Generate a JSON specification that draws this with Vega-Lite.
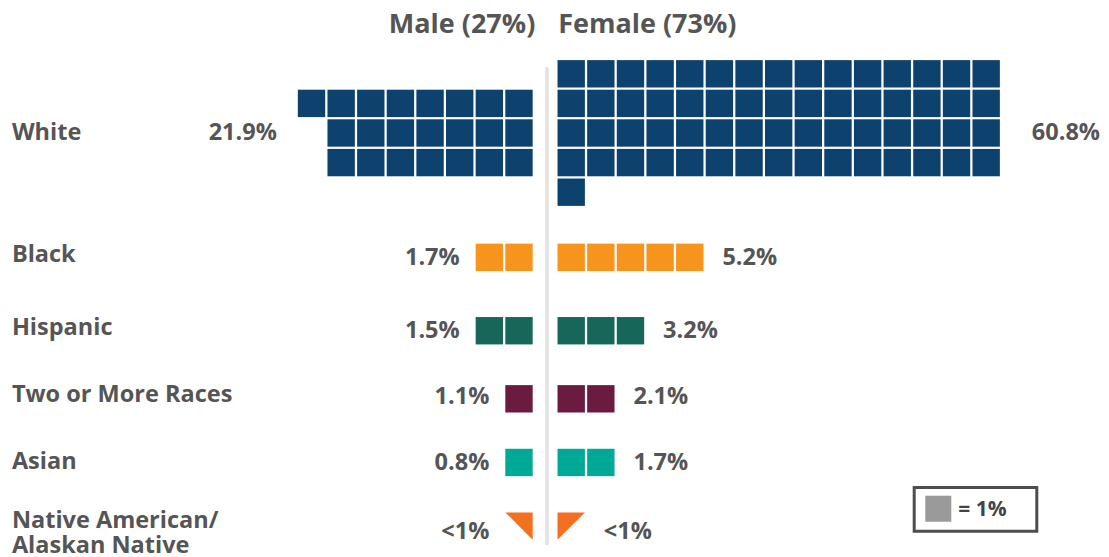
{
  "$schema": "https://vega.github.io/schema/vega-lite/v6.json",
  "width": 1109,
  "height": 557,
  "padding": 0,
  "autosize": {"type": "none"},
  "config": {"view": {"stroke": null}, "text": {"font": "Open Sans", "fontWeight": "bold", "color": "#555555"}},
  "resolve": {"scale": {"x": "independent"}},
  "datasets": {
    "cells": [
      {"r":"White","s":"M","c":0,"y":1,"sh":"sq"},{"r":"White","s":"M","c":1,"y":1,"sh":"sq"},{"r":"White","s":"M","c":2,"y":1,"sh":"sq"},{"r":"White","s":"M","c":3,"y":1,"sh":"sq"},{"r":"White","s":"M","c":4,"y":1,"sh":"sq"},{"r":"White","s":"M","c":5,"y":1,"sh":"sq"},{"r":"White","s":"M","c":6,"y":1,"sh":"sq"},{"r":"White","s":"M","c":7,"y":1,"sh":"sq"},
      {"r":"White","s":"M","c":0,"y":2,"sh":"sq"},{"r":"White","s":"M","c":1,"y":2,"sh":"sq"},{"r":"White","s":"M","c":2,"y":2,"sh":"sq"},{"r":"White","s":"M","c":3,"y":2,"sh":"sq"},{"r":"White","s":"M","c":4,"y":2,"sh":"sq"},{"r":"White","s":"M","c":5,"y":2,"sh":"sq"},{"r":"White","s":"M","c":6,"y":2,"sh":"sq"},
      {"r":"White","s":"M","c":0,"y":3,"sh":"sq"},{"r":"White","s":"M","c":1,"y":3,"sh":"sq"},{"r":"White","s":"M","c":2,"y":3,"sh":"sq"},{"r":"White","s":"M","c":3,"y":3,"sh":"sq"},{"r":"White","s":"M","c":4,"y":3,"sh":"sq"},{"r":"White","s":"M","c":5,"y":3,"sh":"sq"},{"r":"White","s":"M","c":6,"y":3,"sh":"sq"},
      {"r":"White","s":"F","c":0,"y":0,"sh":"sq"},{"r":"White","s":"F","c":1,"y":0,"sh":"sq"},{"r":"White","s":"F","c":2,"y":0,"sh":"sq"},{"r":"White","s":"F","c":3,"y":0,"sh":"sq"},{"r":"White","s":"F","c":4,"y":0,"sh":"sq"},{"r":"White","s":"F","c":5,"y":0,"sh":"sq"},{"r":"White","s":"F","c":6,"y":0,"sh":"sq"},{"r":"White","s":"F","c":7,"y":0,"sh":"sq"},{"r":"White","s":"F","c":8,"y":0,"sh":"sq"},{"r":"White","s":"F","c":9,"y":0,"sh":"sq"},{"r":"White","s":"F","c":10,"y":0,"sh":"sq"},{"r":"White","s":"F","c":11,"y":0,"sh":"sq"},{"r":"White","s":"F","c":12,"y":0,"sh":"sq"},{"r":"White","s":"F","c":13,"y":0,"sh":"sq"},{"r":"White","s":"F","c":14,"y":0,"sh":"sq"},
      {"r":"White","s":"F","c":0,"y":1,"sh":"sq"},{"r":"White","s":"F","c":1,"y":1,"sh":"sq"},{"r":"White","s":"F","c":2,"y":1,"sh":"sq"},{"r":"White","s":"F","c":3,"y":1,"sh":"sq"},{"r":"White","s":"F","c":4,"y":1,"sh":"sq"},{"r":"White","s":"F","c":5,"y":1,"sh":"sq"},{"r":"White","s":"F","c":6,"y":1,"sh":"sq"},{"r":"White","s":"F","c":7,"y":1,"sh":"sq"},{"r":"White","s":"F","c":8,"y":1,"sh":"sq"},{"r":"White","s":"F","c":9,"y":1,"sh":"sq"},{"r":"White","s":"F","c":10,"y":1,"sh":"sq"},{"r":"White","s":"F","c":11,"y":1,"sh":"sq"},{"r":"White","s":"F","c":12,"y":1,"sh":"sq"},{"r":"White","s":"F","c":13,"y":1,"sh":"sq"},{"r":"White","s":"F","c":14,"y":1,"sh":"sq"},
      {"r":"White","s":"F","c":0,"y":2,"sh":"sq"},{"r":"White","s":"F","c":1,"y":2,"sh":"sq"},{"r":"White","s":"F","c":2,"y":2,"sh":"sq"},{"r":"White","s":"F","c":3,"y":2,"sh":"sq"},{"r":"White","s":"F","c":4,"y":2,"sh":"sq"},{"r":"White","s":"F","c":5,"y":2,"sh":"sq"},{"r":"White","s":"F","c":6,"y":2,"sh":"sq"},{"r":"White","s":"F","c":7,"y":2,"sh":"sq"},{"r":"White","s":"F","c":8,"y":2,"sh":"sq"},{"r":"White","s":"F","c":9,"y":2,"sh":"sq"},{"r":"White","s":"F","c":10,"y":2,"sh":"sq"},{"r":"White","s":"F","c":11,"y":2,"sh":"sq"},{"r":"White","s":"F","c":12,"y":2,"sh":"sq"},{"r":"White","s":"F","c":13,"y":2,"sh":"sq"},{"r":"White","s":"F","c":14,"y":2,"sh":"sq"},
      {"r":"White","s":"F","c":0,"y":3,"sh":"sq"},{"r":"White","s":"F","c":1,"y":3,"sh":"sq"},{"r":"White","s":"F","c":2,"y":3,"sh":"sq"},{"r":"White","s":"F","c":3,"y":3,"sh":"sq"},{"r":"White","s":"F","c":4,"y":3,"sh":"sq"},{"r":"White","s":"F","c":5,"y":3,"sh":"sq"},{"r":"White","s":"F","c":6,"y":3,"sh":"sq"},{"r":"White","s":"F","c":7,"y":3,"sh":"sq"},{"r":"White","s":"F","c":8,"y":3,"sh":"sq"},{"r":"White","s":"F","c":9,"y":3,"sh":"sq"},{"r":"White","s":"F","c":10,"y":3,"sh":"sq"},{"r":"White","s":"F","c":11,"y":3,"sh":"sq"},{"r":"White","s":"F","c":12,"y":3,"sh":"sq"},{"r":"White","s":"F","c":13,"y":3,"sh":"sq"},{"r":"White","s":"F","c":14,"y":3,"sh":"sq"},
      {"r":"White","s":"F","c":0,"y":4,"sh":"sq"},
      {"r":"Black","s":"M","c":0,"y":6.2,"sh":"sq"},{"r":"Black","s":"M","c":1,"y":6.2,"sh":"sq"},
      {"r":"Black","s":"F","c":0,"y":6.2,"sh":"sq"},{"r":"Black","s":"F","c":1,"y":6.2,"sh":"sq"},{"r":"Black","s":"F","c":2,"y":6.2,"sh":"sq"},{"r":"Black","s":"F","c":3,"y":6.2,"sh":"sq"},{"r":"Black","s":"F","c":4,"y":6.2,"sh":"sq"},
      {"r":"Hispanic","s":"M","c":0,"y":8.68,"sh":"sq"},{"r":"Hispanic","s":"M","c":1,"y":8.68,"sh":"sq"},
      {"r":"Hispanic","s":"F","c":0,"y":8.68,"sh":"sq"},{"r":"Hispanic","s":"F","c":1,"y":8.68,"sh":"sq"},{"r":"Hispanic","s":"F","c":2,"y":8.68,"sh":"sq"},
      {"r":"Two or More Races","s":"M","c":0,"y":10.98,"sh":"sq"},
      {"r":"Two or More Races","s":"F","c":0,"y":10.98,"sh":"sq"},{"r":"Two or More Races","s":"F","c":1,"y":10.98,"sh":"sq"},
      {"r":"Asian","s":"M","c":0,"y":13.13,"sh":"sq"},
      {"r":"Asian","s":"F","c":0,"y":13.13,"sh":"sq"},{"r":"Asian","s":"F","c":1,"y":13.13,"sh":"sq"},
      {"r":"Native American/Alaskan Native","s":"M","c":0,"y":15.28,"sh":"tm"},
      {"r":"Native American/Alaskan Native","s":"F","c":0,"y":15.28,"sh":"tf"}
    ],
    "races": [
      {"t": ["White"], "y": 2.0},
      {"t": ["Black"], "y": 6.12},
      {"t": ["Hispanic"], "y": 8.6},
      {"t": ["Two or More Races"], "y": 10.84},
      {"t": ["Asian"], "y": 13.11},
      {"t": ["Native American/", "Alaskan Native"], "y": 15.1}
    ],
    "labels": [
      {"r":"White","s":"M","t":"21.9%","n":8,"y":2.0},
      {"r":"White","s":"F","t":"60.8%","n":15,"y":2.0},
      {"r":"Black","s":"M","t":"1.7%","n":2,"y":6.22},
      {"r":"Black","s":"F","t":"5.2%","n":5,"y":6.22},
      {"r":"Hispanic","s":"M","t":"1.5%","n":2,"y":8.7},
      {"r":"Hispanic","s":"F","t":"3.2%","n":3,"y":8.7},
      {"r":"Two or More Races","s":"M","t":"1.1%","n":1,"y":10.93},
      {"r":"Two or More Races","s":"F","t":"2.1%","n":2,"y":10.93},
      {"r":"Asian","s":"M","t":"0.8%","n":1,"y":13.15},
      {"r":"Asian","s":"F","t":"1.7%","n":2,"y":13.15},
      {"r":"Native American/Alaskan Native","s":"M","t":"<1%","n":1,"y":15.49},
      {"r":"Native American/Alaskan Native","s":"F","t":"<1%","n":1,"y":15.49}
    ],
    "heads": [
      {"s":"M","t":"Male (27%)"},
      {"s":"F","t":"Female (73%)"}
    ],
    "key": [
      {"t":"= 1%"}
    ]
  },
  "layer": [
    {
      "data": {"name": "key"},
      "mark": {"type": "rule", "color": "#e2e2e2", "strokeWidth": 3.5},
      "encoding": {
        "x": {"datum": -0.816, "type": "quantitative", "scale": {"domain": [-19.271, 18.144], "nice": false, "zero": false}, "axis": null},
        "y": {"datum": -0.23, "type": "quantitative", "scale": {"domain": [-2.493, 16.324], "reverse": true, "nice": false, "zero": false}, "axis": null},
        "y2": {"datum": 15.92}
      }
    },
    {
      "data": {"name": "cells"},
      "transform": [{"filter": "datum.s === 'M'"}],
      "mark": {"type": "point", "filled": true, "opacity": 1, "size": 750},
      "encoding": {
        "x": {"field": "c", "type": "quantitative", "scale": {"domain": [-19.906, 17.51], "reverse": true, "nice": false, "zero": false}, "axis": null},
        "y": {"field": "y", "type": "quantitative", "scale": {"domain": [-2.493, 16.324], "reverse": true, "nice": false, "zero": false}, "axis": null},
        "color": {"field": "r", "type": "nominal", "legend": null,
          "scale": {"domain": ["White","Black","Hispanic","Two or More Races","Asian","Native American/Alaskan Native"],
                    "range": ["#0e426e","#f7941e","#17665a","#6b1b40","#00a995","#f36f21"]}},
        "shape": {"field": "sh", "type": "nominal", "legend": null,
          "scale": {"domain": ["sq","tm","tf"], "range": ["square","M-1,-1L1,-1L1,1Z","M-1,-1L1,-1L-1,1Z"]}}
      }
    },
    {
      "data": {"name": "cells"},
      "transform": [{"filter": "datum.s === 'F'"}],
      "mark": {"type": "point", "filled": true, "opacity": 1, "size": 750},
      "encoding": {
        "x": {"field": "c", "type": "quantitative", "scale": {"domain": [-19.271, 18.144], "nice": false, "zero": false}, "axis": null},
        "y": {"field": "y", "type": "quantitative", "scale": {"domain": [-2.493, 16.324], "reverse": true, "nice": false, "zero": false}, "axis": null},
        "color": {"field": "r", "type": "nominal", "legend": null},
        "shape": {"field": "sh", "type": "nominal", "legend": null}
      }
    },
    {
      "data": {"name": "races"},
      "mark": {"type": "text", "align": "left", "baseline": "middle", "fontSize": 23.5, "lineHeight": 25},
      "encoding": {
        "x": {"datum": -18.87, "type": "quantitative", "scale": {"domain": [-19.271, 18.144], "nice": false, "zero": false}, "axis": null},
        "y": {"field": "y", "type": "quantitative", "scale": {"domain": [-2.493, 16.324], "reverse": true, "nice": false, "zero": false}, "axis": null},
        "text": {"field": "t"}
      }
    },
    {
      "data": {"name": "labels"},
      "transform": [{"filter": "datum.s === 'M' && datum.r !== 'White'"}],
      "mark": {"type": "text", "align": "right", "baseline": "middle", "fontSize": 23.5, "dx": 0},
      "encoding": {
        "x": {"field": "n", "type": "quantitative", "scale": {"domain": [-19.906, 17.51], "reverse": true, "nice": false, "zero": false}, "axis": null},
        "y": {"field": "y", "type": "quantitative", "scale": {"domain": [-2.493, 16.324], "reverse": true, "nice": false, "zero": false}, "axis": null},
        "text": {"field": "t"}
      }
    },
    {
      "data": {"name": "labels"},
      "transform": [{"filter": "datum.s === 'M' && datum.r === 'White'"}],
      "mark": {"type": "text", "align": "right", "baseline": "middle", "fontSize": 23.5, "dx": -5},
      "encoding": {
        "x": {"field": "n", "type": "quantitative", "scale": {"domain": [-19.906, 17.51], "reverse": true, "nice": false, "zero": false}, "axis": null},
        "y": {"field": "y", "type": "quantitative", "scale": {"domain": [-2.493, 16.324], "reverse": true, "nice": false, "zero": false}, "axis": null},
        "text": {"field": "t"}
      }
    },
    {
      "data": {"name": "labels"},
      "transform": [{"filter": "datum.s === 'F' && datum.r !== 'White'"}],
      "mark": {"type": "text", "align": "left", "baseline": "middle", "fontSize": 23.5, "dx": 3},
      "encoding": {
        "x": {"field": "n", "type": "quantitative", "scale": {"domain": [-19.271, 18.144], "nice": false, "zero": false}, "axis": null},
        "y": {"field": "y", "type": "quantitative", "scale": {"domain": [-2.493, 16.324], "reverse": true, "nice": false, "zero": false}, "axis": null},
        "text": {"field": "t"}
      }
    },
    {
      "data": {"name": "labels"},
      "transform": [{"filter": "datum.s === 'F' && datum.r === 'White'"}],
      "mark": {"type": "text", "align": "left", "baseline": "middle", "fontSize": 23.5, "dx": 16},
      "encoding": {
        "x": {"field": "n", "type": "quantitative", "scale": {"domain": [-19.271, 18.144], "nice": false, "zero": false}, "axis": null},
        "y": {"field": "y", "type": "quantitative", "scale": {"domain": [-2.493, 16.324], "reverse": true, "nice": false, "zero": false}, "axis": null},
        "text": {"field": "t"}
      }
    },
    {
      "data": {"name": "heads"},
      "transform": [{"filter": "datum.s === 'M'"}],
      "mark": {"type": "text", "align": "right", "baseline": "middle", "fontSize": 27},
      "encoding": {
        "x": {"datum": -0.55, "type": "quantitative", "scale": {"domain": [-19.906, 17.51], "reverse": true, "nice": false, "zero": false}, "axis": null},
        "y": {"datum": -1.66, "type": "quantitative", "scale": {"domain": [-2.493, 16.324], "reverse": true, "nice": false, "zero": false}, "axis": null},
        "text": {"field": "t"}
      }
    },
    {
      "data": {"name": "heads"},
      "transform": [{"filter": "datum.s === 'F'"}],
      "mark": {"type": "text", "align": "left", "baseline": "middle", "fontSize": 27},
      "encoding": {
        "x": {"datum": -0.44, "type": "quantitative", "scale": {"domain": [-19.271, 18.144], "nice": false, "zero": false}, "axis": null},
        "y": {"datum": -1.66, "type": "quantitative", "scale": {"domain": [-2.493, 16.324], "reverse": true, "nice": false, "zero": false}, "axis": null},
        "text": {"field": "t"}
      }
    },
    {
      "data": {"name": "key"},
      "mark": {"type": "rect", "fill": "#ffffff", "stroke": "#4d4d4d", "strokeWidth": 3},
      "encoding": {
        "x": {"datum": 11.572, "type": "quantitative", "scale": {"domain": [-19.271, 18.144], "nice": false, "zero": false}, "axis": null},
        "x2": {"datum": 15.708},
        "y": {"datum": 13.976, "type": "quantitative", "scale": {"domain": [-2.493, 16.324], "reverse": true, "nice": false, "zero": false}, "axis": null},
        "y2": {"datum": 15.453}
      }
    },
    {
      "data": {"name": "key"},
      "mark": {"type": "point", "shape": "square", "filled": true, "opacity": 1, "size": 676, "color": "#9a9a9a"},
      "encoding": {
        "x": {"datum": 12.385, "type": "quantitative", "scale": {"domain": [-19.271, 18.144], "nice": false, "zero": false}, "axis": null},
        "y": {"datum": 14.693, "type": "quantitative", "scale": {"domain": [-2.493, 16.324], "reverse": true, "nice": false, "zero": false}, "axis": null}
      }
    },
    {
      "data": {"name": "key"},
      "mark": {"type": "text", "align": "left", "baseline": "middle", "fontSize": 21, "color": "#444444"},
      "encoding": {
        "x": {"datum": 13.06, "type": "quantitative", "scale": {"domain": [-19.271, 18.144], "nice": false, "zero": false}, "axis": null},
        "y": {"datum": 14.73, "type": "quantitative", "scale": {"domain": [-2.493, 16.324], "reverse": true, "nice": false, "zero": false}, "axis": null},
        "text": {"field": "t"}
      }
    }
  ]
}
